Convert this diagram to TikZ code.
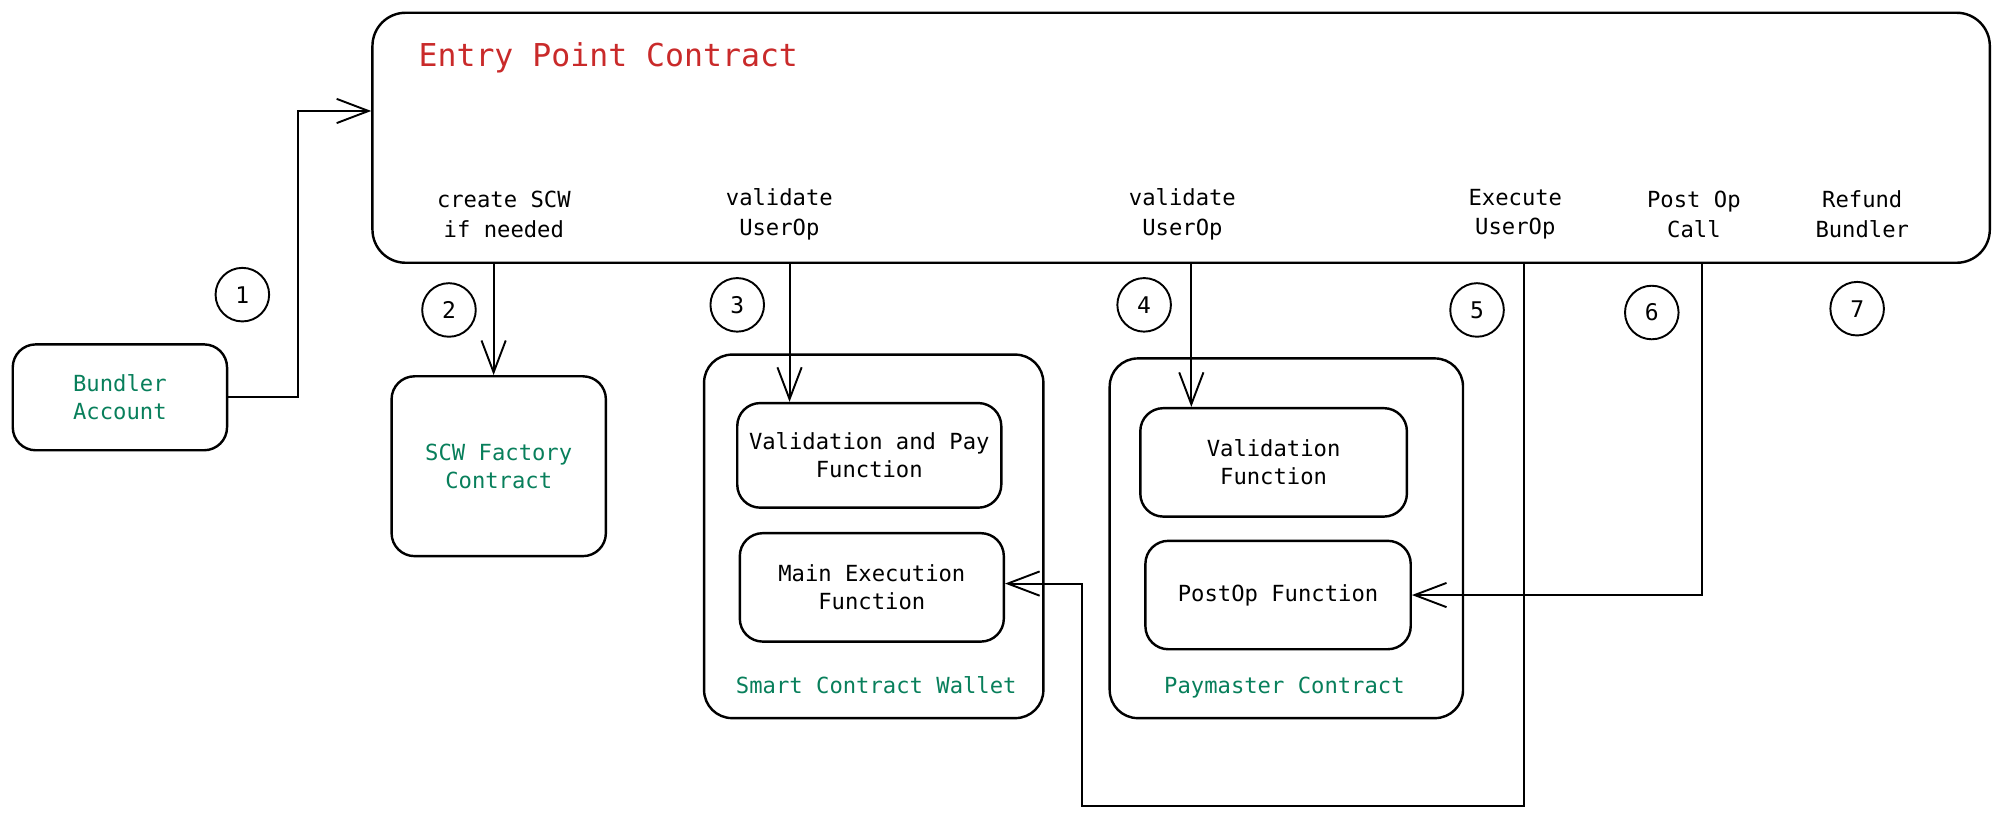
\documentclass[tikz,border=0pt]{standalone}
\usepackage{fontspec}
\newfontfamily\mono{DejaVu Sans Mono}
\usetikzlibrary{arrows.meta,calc}
\definecolor{epred}{HTML}{C92A2A}
\definecolor{tgreen}{HTML}{087F5B}
\begin{document}
\begin{tikzpicture}[x=1pt,y=-1pt,
  box/.style={draw,line width=1.9pt,rounded corners=18pt,inner sep=0pt,align=center,font=\mono\fontsize{17.4}{22}\selectfont},
  bigbox/.style={draw,line width=1.9pt,rounded corners=26pt,inner sep=0pt},
  lbl/.style={align=center,inner sep=0pt,font=\mono\fontsize{17.4}{23}\selectfont},
  num/.style={draw,circle,line width=1.5pt,minimum size=42pt,inner sep=0pt,font=\mono\fontsize{18}{20}\selectfont},
  arr/.style={line width=1.5pt,-{Straight Barb[length=25pt,width=19pt,line width=1.5pt]}}]
\useasboundingbox (0,0) rectangle (1568,641);
% entry point
\node[bigbox,minimum width=1268pt,minimum height=196pt] (ep) at (926,108) {};
\node[anchor=west,inner sep=0pt,text=epred,font=\mono\fontsize{24.7}{28}\selectfont] (title) at (328,45) {Entry Point Contract};
\node[lbl] (l2) at (395,168) {create SCW\\if needed};
\node[lbl] (l3) at (611,168) {validate\\UserOp};
\node[lbl] (l4) at (927,168) {validate\\UserOp};
\node[lbl] (l5) at (1188,168) {Execute\\UserOp};
\node[lbl] (l6) at (1328,168) {Post Op\\Call};
\node[lbl] (l7) at (1460,168) {Refund\\Bundler};
% numbers
\node[num] (n1) at (190,231) {1};
\node[num] (n2) at (352,243) {2};
\node[num] (n3) at (578,239) {3};
\node[num] (n4) at (897,239) {4};
\node[num] (n5) at (1158,243) {5};
\node[num] (n6) at (1295,245) {6};
\node[num] (n7) at (1456,242) {7};
% boxes
\node[box,text=tgreen,minimum width=168pt,minimum height=83pt] (bund) at (94,311.5) {Bundler\\Account};
\node[box,text=tgreen,minimum width=168pt,minimum height=141pt] (fac) at (391,365.5) {SCW Factory\\Contract};
\node[bigbox,minimum width=266pt,minimum height=285pt,rounded corners=22pt] (scw) at (685,420.5) {};
\node[lbl,text=tgreen] (scwl) at (687,537) {Smart Contract Wallet};
\node[box,minimum width=207pt,minimum height=82pt] (vp) at (681.5,357) {Validation and Pay\\Function};
\node[box,minimum width=207pt,minimum height=85pt] (mx) at (683.5,460.5) {Main Execution\\Function};
\node[bigbox,minimum width=277pt,minimum height=282pt,rounded corners=22pt] (pm) at (1008.5,422) {};
\node[lbl,text=tgreen] (pml) at (1007,539) {Paymaster Contract};
\node[box,minimum width=209pt,minimum height=85pt] (vf) at (998.5,362.5) {Validation\\Function};
\node[box,minimum width=208pt,minimum height=85pt] (po) at (1002,466.5) {PostOp Function};
% connectors
\coordinate (a2) at (387,0);
\coordinate (a3) at (619,0);
\coordinate (a4) at (934,0);
\coordinate (a5) at (1195,0);
\coordinate (b5) at (848,632);
\coordinate (a6) at (1334,0);
\draw[arr] (bund.east) -- ++(55,0) |- ([yshift=21pt]ep.west);
\draw[arr] (ep.south -| a2) -- (fac.north -| a2);
\draw[arr] (ep.south -| a3) -- (vp.north -| a3);
\draw[arr] (ep.south -| a4) -- (vf.north -| a4);
\draw[arr] (ep.south -| a5) -- (a5 |- b5) -- (b5) |- ([yshift=3pt]mx.east);
\draw[arr] (ep.south -| a6) |- (po.east);
\end{tikzpicture}
\end{document}
